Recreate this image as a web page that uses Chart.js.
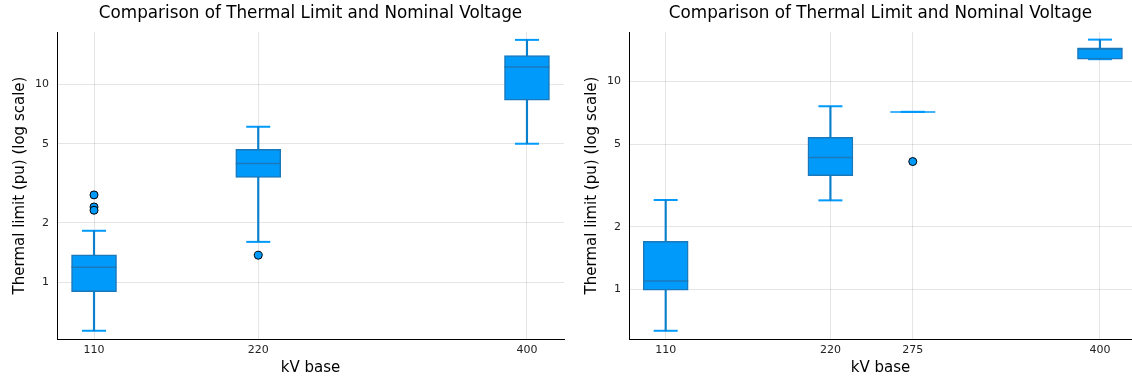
<!DOCTYPE html>
<html>
<head>
<meta charset="utf-8">
<script src="https://cdn.jsdelivr.net/npm/chart.js@4"></script>
<style>
  body { margin: 0; background: #fff; }
  #wrap { display: flex; width: 1132px; height: 379px; }
  canvas { display: block; }
</style>
</head>
<body>
<div id="wrap">
  <canvas id="leftChart" width="566" height="379"></canvas>
  <canvas id="rightChart" width="566" height="379"></canvas>
</div>
<script>
// left panel
const leftKv = [110, 220, 400];
const leftLow = [0.57, 1.6, 5.0];
const leftQ1 = [0.897, 3.38, 8.3];
const leftMedian = [1.19, 3.98, 12.2];
const leftQ3 = [1.377, 4.69, 13.9];
const leftHigh = [1.82, 6.09, 16.7];
const leftOutlierKv = [110, 110, 110, 220];
const leftOutlierVal = [2.76, 2.4, 2.31, 1.37];

// right panel
const rightKv = [110, 220, 275, 400];
const rightLow = [0.632, 2.68, 7.14, 12.8];
const rightQ1 = [0.99, 3.52, 7.14, 12.8];
const rightMedian = [1.096, 4.31, 7.14, 14.4];
const rightQ3 = [1.7, 5.38, 7.14, 14.4];
const rightHigh = [2.69, 7.6, 7.14, 15.9];
const rightOutlierKv = [275];
const rightOutlierVal = [4.12];

const yTicks = [1, 2, 5, 10];
const titleText = "Comparison of Thermal Limit and Nominal Voltage";

const FONT = "DejaVu Sans";
const FILL = "#009AFA";
const EDGE = "#1a78bb";
const WHISKER = "#0a7fcc";

// draws the title centred over the plot area
const titlePlugin = {
  id: "plotTitle",
  afterDraw(chart) {
    const { ctx, chartArea } = chart;
    ctx.save();
    ctx.font = `16.8px "${FONT}"`;
    ctx.fillStyle = "#000";
    ctx.textAlign = "center";
    ctx.textBaseline = "middle";
    ctx.fillText(titleText, (chartArea.left + chartArea.right) / 2, 14);
    ctx.restore();
  },
};

function makeChart(id, kv, low, q1, med, q3, high, outKv, outVal, cfg) {
  const ctx = document.getElementById(id).getContext("2d");
  const medColors = kv.map((_, i) => (q1[i] === q3[i] ? FILL : EDGE));
  return new Chart(ctx, {
    type: "bar",
    data: {
      datasets: [
        {
          type: "scatter",
          label: "caps",
          data: kv.flatMap((x, i) => [
            { x: x, y: low[i] },
            { x: x, y: high[i] },
          ]),
          pointStyle: "line",
          radius: 12,
          borderColor: FILL,
          borderWidth: 2,
          order: 6,
        },
        {
          label: "whisker",
          data: kv.map((x, i) => ({ x: x, y: [low[i], high[i]] })),
          backgroundColor: WHISKER,
          barThickness: 1.5,
          grouped: false,
          order: 5,
        },
        {
          label: "box",
          data: kv.map((x, i) => ({ x: x, y: [q1[i], q3[i]] })),
          backgroundColor: FILL,
          borderColor: EDGE,
          borderWidth: 1.5,
          borderSkipped: false,
          barThickness: 45,
          grouped: false,
          order: 4,
        },
        {
          type: "scatter",
          label: "median",
          data: kv.map((x, i) => ({ x: x, y: med[i] })),
          pointStyle: "line",
          radius: 22.5,
          borderColor: medColors,
          borderWidth: 1.5,
          order: 2,
        },
        {
          type: "scatter",
          label: "outliers",
          data: outKv.map((x, i) => ({ x: x, y: outVal[i] })),
          pointStyle: "circle",
          radius: 4,
          backgroundColor: FILL,
          borderColor: "#000",
          borderWidth: 1,
          order: 1,
        },
      ],
    },
    options: {
      responsive: false,
      animation: false,
      layout: {
        autoPadding: false,
        padding: { top: 32, right: cfg.padRight, bottom: 0, left: 0 },
      },
      plugins: { legend: { display: false }, tooltip: { enabled: false } },
      scales: {
        x: {
          type: "linear",
          min: cfg.xMin,
          max: cfg.xMax,
          offset: false,
          afterBuildTicks: (scale) => {
            scale.ticks = kv.map((v) => ({ value: v }));
          },
          afterFit: (scale) => {
            scale.height = 40;
            scale.paddingLeft = 0;
            scale.paddingRight = 0;
          },
          ticks: {
            callback: (v) => String(v),
            font: { family: FONT, size: 11 },
            color: "#222",
            padding: 5,
            maxRotation: 0,
          },
          grid: { color: "rgba(0,0,0,0.1)", drawTicks: false, offset: false },
          border: { color: "#000", width: 1 },
          title: {
            display: true,
            text: "kV base",
            font: { family: FONT, size: 15 },
            color: "#000",
            padding: { top: 0, bottom: 2 },
          },
        },
        y: {
          type: "logarithmic",
          min: cfg.yMin,
          max: cfg.yMax,
          afterBuildTicks: (scale) => {
            scale.ticks = yTicks.map((v) => ({ value: v }));
          },
          afterFit: (scale) => {
            scale.width = cfg.yWidth;
            scale.paddingTop = 0;
            scale.paddingBottom = 0;
          },
          ticks: {
            callback: (v) => String(v),
            font: { family: FONT, size: 11 },
            color: "#222",
            padding: 8,
          },
          grid: { color: "rgba(0,0,0,0.1)", drawTicks: false },
          border: { color: "#000", width: 1 },
          title: {
            display: true,
            text: "Thermal limit (pu) (log scale)",
            font: { family: FONT, size: 15 },
            color: "#000",
            padding: { top: cfg.yTitlePad, bottom: 0 },
          },
        },
      },
    },
    plugins: [titlePlugin],
  });
}

makeChart("leftChart", leftKv, leftLow, leftQ1, leftMedian, leftQ3, leftHigh,
  leftOutlierKv, leftOutlierVal,
  { xMin: 85.2, xMax: 424.8, yMin: 0.518, yMax: 18.3, yWidth: 57, yTitlePad: 11, padRight: 2 });

makeChart("rightChart", rightKv, rightLow, rightQ1, rightMedian, rightQ3, rightHigh,
  rightOutlierKv, rightOutlierVal,
  { xMin: 85.5, xMax: 421.4, yMin: 0.577, yMax: 17.3, yWidth: 63, yTitlePad: 17, padRight: 0 });
</script>
</body>
</html>
